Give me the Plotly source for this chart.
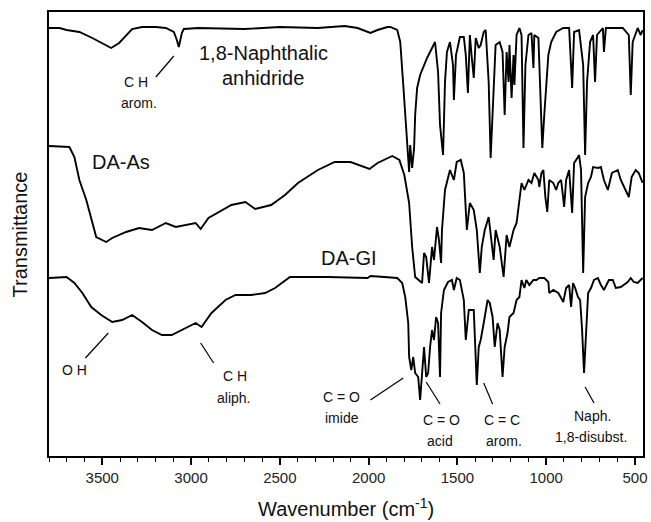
import plotly.graph_objects as go

# ---- data (wavenumber cm-1, transmittance a.u.) ----
naph_wn = [3802, 3741, 3701, 3629, 3556, 3500, 3450, 3405, 3360, 3332, 3276, 3198, 3142, 3097, 3080, 3069, 3052, 3041,
           2958, 2700, 2500, 2286, 2135, 2062, 1990, 1950, 1894, 1878, 1839, 1822, 1805, 1794, 1783, 1772, 1766, 1755,
           1744, 1738, 1727, 1710, 1671, 1643, 1626, 1609, 1598, 1581, 1570, 1559, 1542, 1525, 1520, 1508, 1486, 1464,
           1453, 1441, 1430, 1419, 1408, 1397, 1380, 1369, 1352, 1341, 1324, 1313, 1296, 1285, 1262, 1246, 1234, 1223,
           1212, 1207, 1195, 1184, 1179, 1167, 1151, 1139, 1128, 1117, 1100, 1083, 1072, 1067, 1044, 1039, 1022, 1011,
           988, 972, 944, 904, 871, 854, 843, 815, 792, 781, 770, 753, 736, 725, 714, 681, 675, 664, 608, 569, 535, 524,
           513, 485, 468, 457]
naph_t = [428, 428, 426, 424, 418, 413, 408, 413, 421, 427, 429, 429, 428, 424, 416, 409, 423, 427,
          428, 427, 429, 428, 430, 428, 423, 426, 429, 429, 426, 414, 371, 341, 308, 284, 311, 288,
          308, 341, 368, 381, 398, 408, 414, 384, 331, 301, 374, 404, 414, 391, 356, 401, 419, 419,
          401, 363, 421, 398, 378, 418, 408, 411, 424, 426, 374, 298, 358, 411, 414, 404, 341, 404,
          374, 411, 358, 401, 371, 421, 428, 421, 308, 391, 421, 423, 388, 421, 418, 391, 308, 341,
          401, 414, 424, 428, 428, 368, 424, 426, 391, 301, 374, 414, 421, 374, 421, 428, 404, 428, 428, 428, 421, 361,
          414, 428, 421, 426]

daas_wn = [3802, 3685, 3657, 3629, 3590, 3562, 3534, 3478, 3444, 3366, 3293, 3220, 3142, 3086, 2974, 2946, 2902, 2773,
           2694, 2639, 2549, 2471, 2398, 2286, 2191, 2102, 1995, 1950, 1867, 1827, 1799, 1772, 1755, 1738, 1716, 1699,
           1688, 1676, 1660, 1643, 1632, 1615, 1604, 1592, 1587, 1570, 1542, 1520, 1504, 1481, 1464, 1447, 1430, 1408,
           1391, 1374, 1363, 1346, 1324, 1313, 1296, 1285, 1262, 1240, 1223, 1207, 1184, 1167, 1151, 1139, 1123, 1100,
           1083, 1067, 1044, 1039, 1027, 1016, 1005, 994, 983, 960, 944, 932, 916, 899, 888, 871, 854, 843, 821, 815,
           804, 792, 781, 764, 748, 736, 709, 692, 675, 653, 630, 597, 580, 563, 535, 519, 496, 479, 457]
daas_t = [310, 309, 299, 276, 256, 236, 219, 214, 218, 224, 228, 226, 233, 229, 233, 227, 238, 251,
          254, 247, 251, 261, 273, 286, 294, 294, 287, 293, 300, 296, 281, 253, 209, 179, 176, 173,
          203, 199, 173, 209, 196, 229, 216, 193, 226, 266, 286, 276, 294, 296, 283, 226, 253, 246,
          226, 183, 209, 226, 239, 223, 196, 226, 209, 179, 221, 209, 226, 233, 253, 273, 266, 276,
          273, 283, 276, 269, 283, 286, 259, 244, 276, 273, 266, 273, 276, 249, 276, 286, 243, 293, 299, 301,
          286, 183, 259, 273, 279, 289, 288, 289, 276, 266, 283, 286, 276, 269, 259, 279, 286, 283, 273]

dagi_wn = [3802, 3701, 3657, 3612, 3562, 3506, 3444, 3388, 3332, 3276, 3220, 3164, 3109, 3052, 2974, 2941, 2885, 2806,
           2750, 2661, 2583, 2527, 2443, 2342, 2230, 2006, 1990, 1911, 1839, 1811, 1794, 1777, 1772, 1760, 1749, 1738,
           1721, 1710, 1699, 1688, 1676, 1665, 1654, 1643, 1632, 1620, 1609, 1598, 1592, 1576, 1553, 1531, 1520, 1504,
           1486, 1464, 1453, 1436, 1408, 1402, 1391, 1380, 1369, 1352, 1330, 1318, 1302, 1290, 1274, 1262, 1246, 1234,
           1218, 1207, 1184, 1167, 1151, 1139, 1123, 1112, 1095, 1072, 1055, 1039, 1011, 988, 983, 960, 932, 916, 904,
           888, 871, 860, 849, 837, 821, 809, 798, 787, 776, 764, 748, 731, 709, 692, 675, 647, 625, 608, 580, 563, 541,
           524, 507, 485, 457]
dagi_t = [178, 179, 173, 163, 149, 141, 134, 136, 141, 134, 126, 121, 121, 126, 133, 129, 143, 156,
          161, 161, 163, 168, 179, 179, 179, 178, 180, 179, 178, 173, 159, 133, 99, 86, 99, 83,
          79, 56, 83, 109, 79, 83, 109, 126, 116, 139, 133, 79, 143, 166, 174, 176, 166, 178,
          176, 156, 116, 146, 146, 119, 71, 109, 116, 133, 156, 153, 139, 109, 133, 126, 79, 109,
          123, 139, 143, 156, 159, 176, 168, 176, 171, 176, 176, 178, 178, 174, 163, 166, 163, 158, 154,
          168, 171, 149, 173, 168, 159, 156, 126, 83, 126, 163, 168, 176, 178, 171, 166, 176, 176, 168, 169, 171, 174,
          178, 174, 173, 178]

series_names = ["1,8-Naphthalic anhidride", "DA-As", "DA-GI"]
tick_vals = [3500, 3000, 2500, 2000, 1500, 1000, 500]
tick_text = ["3500", "3000", "2500", "2000", "1500", "1000", "500"]

FONT = "Arial, 'Liberation Sans', sans-serif"

fig = go.Figure()
for wn, t, name in [(naph_wn, naph_t, series_names[0]), (daas_wn, daas_t, series_names[1]),
                    (dagi_wn, dagi_t, series_names[2])]:
    fig.add_trace(go.Scatter(x=wn, y=t, mode="lines", name=name,
                             line=dict(color="black", width=1.9), showlegend=False))

# curve labels (text, x, y, size)
labels = [
    ("1,8-Naphthalic", 2594, 403, 20), ("anhidride", 2594, 378, 20),
    ("DA-As", 3394, 294, 20), ("DA-GI", 2113, 198, 20),
    ("C H", 3310, 374, 14), ("arom.", 3293, 353, 14),
    ("O H", 3657, 86, 14),
    ("C H", 2750, 80, 14), ("aliph.", 2761, 58, 14),
    ("C = O", 2152, 59, 14), ("imide", 2152, 38, 14),
    ("C = O", 1587, 36, 14), ("acid", 1598, 15, 14),
    ("C = C", 1251, 36, 14), ("arom.", 1240, 15, 14),
    ("Naph.", 742, 40, 14), ("1,8-disubst.", 747, 19, 14),
]
for txt, x, y, s in labels:
    fig.add_annotation(x=x, y=y, xref="x", yref="y", text=txt, showarrow=False,
                       xanchor="center", yanchor="middle",
                       font=dict(family=FONT, size=s, color="#111"))

# pointer lines
pointers = [
    (3198, 379, 3097, 400), (3595, 98, 3466, 123), (2946, 113, 2873, 93),
    (1990, 56, 1805, 78), (1676, 74, 1598, 52), (1352, 73, 1302, 52), (781, 69, 731, 53),
]
for x0, y0, x1, y1 in pointers:
    fig.add_shape(type="line", x0=x0, y0=y0, x1=x1, y1=y1, xref="x", yref="y",
                  line=dict(color="black", width=1.2))

fig.add_annotation(xref="paper", yref="paper", x=0.5, y=-0.115, xanchor="center", yanchor="middle",
                   text="Wavenumber (cm<sup>-1</sup>)",
                   showarrow=False, font=dict(family=FONT, size=20, color="#111"))
fig.add_annotation(xref="paper", yref="paper", x=-0.048, y=0.5, xanchor="center", yanchor="middle",
                   text="Transmittance", textangle=-90,
                   showarrow=False, font=dict(family=FONT, size=20, color="#111"))

fig.update_xaxes(range=[3800, 455], tickvals=tick_vals, ticktext=tick_text, ticks="outside", ticklen=7,
                 tickwidth=1.5, tickcolor="black", showline=True, linecolor="black", linewidth=1.8, mirror=True,
                 showgrid=False, zeroline=False,
                 tickfont=dict(family=FONT, size=15, color="#222"),
                 minor=dict(dtick=100, tick0=0, ticks="outside", ticklen=4, tickwidth=1.2, tickcolor="black",
                            showgrid=False))
fig.update_yaxes(range=[0, 444], showticklabels=False, ticks="", showline=True, linecolor="black", linewidth=1.8,
                 mirror=True, showgrid=False, zeroline=False)

fig.update_layout(width=651, height=522, margin=dict(l=49, r=4, t=12, b=66),
                  plot_bgcolor="white", paper_bgcolor="white", font=dict(family=FONT))

fig.write_html("out.html", config={"displayModeBar": False},
               post_script="document.body.style.margin='0';document.body.style.overflow='hidden';")
